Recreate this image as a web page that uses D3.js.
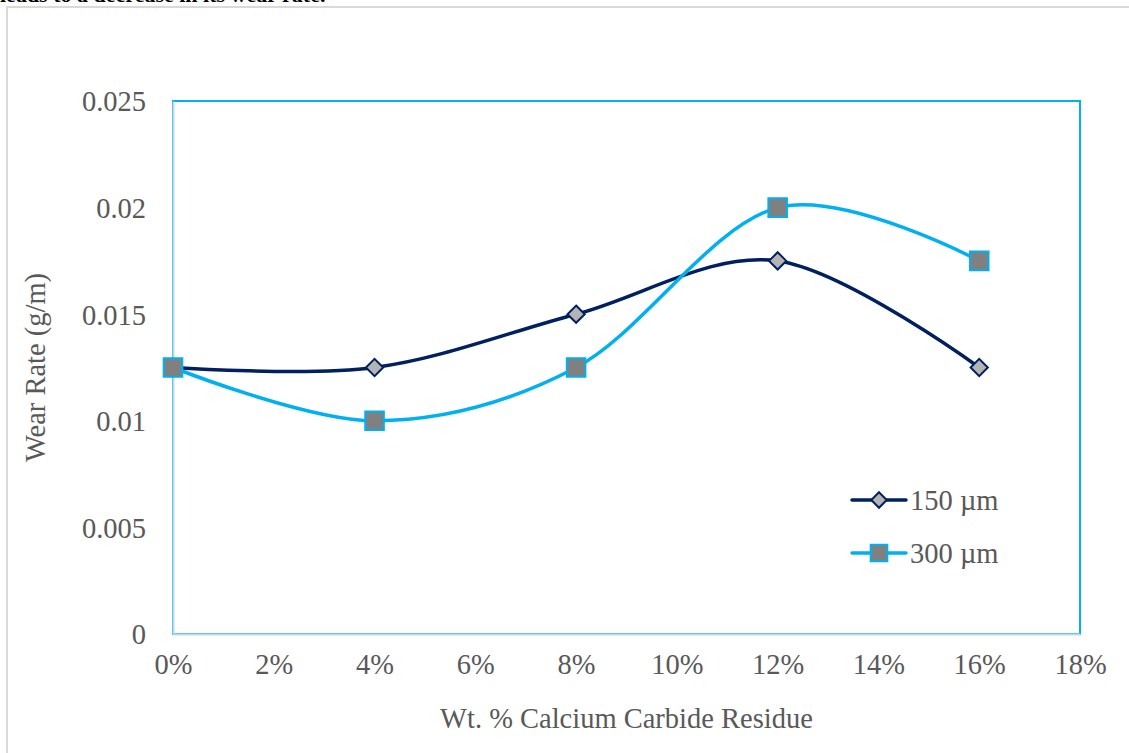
<!DOCTYPE html>
<html>
<head>
<meta charset="utf-8">
<script src="https://cdn.jsdelivr.net/npm/d3@7"></script>
<style>
  body { margin: 0; background: #fff; }
  svg { display: block; font-family: "Liberation Serif", "Times New Roman", serif; }
</style>
</head>
<body>
<div id="chart-area"></div>
<script>
// values
const wtPercent = [0, 4, 8, 12, 16];
const wear150 = [0.0125, 0.0125, 0.015, 0.0175, 0.0125];
const wear300 = [0.0125, 0.01, 0.0125, 0.02, 0.0175];
const xTicks = [0, 2, 4, 6, 8, 10, 12, 14, 16, 18];
const yTicks = [0, 0.005, 0.01, 0.015, 0.02, 0.025];
const seriesNames = ["150 \u00b5m", "300 \u00b5m"];

const width = 1129, height = 753;
const plot = { left: 173, right: 1080, top: 101, bottom: 634 };
const fontSize = 28.5;

const svg = d3.select("#chart-area")
    .append("svg")
    .attr("width", width)
    .attr("height", height);

// tail of the paragraph above, cut off by the crop
svg.append("text")
    .attr("x", 0)
    .attr("y", 2)
    .attr("font-size", 22)
    .attr("font-weight", "bold")
    .attr("fill", "#000")
    .text("leads to a decrease in its wear rate.");

// outer frame (only top and left show)
svg.append("path")
    .attr("d", `M7,${height} V7 H${width}`)
    .attr("fill", "none")
    .attr("stroke", "#d9d9d9")
    .attr("stroke-width", 2);

const x = d3.scaleLinear().domain([0, 18]).range([plot.left, plot.right]);
const y = d3.scaleLinear().domain([0, 0.025]).range([plot.bottom, plot.top]);

// plot area border
svg.append("rect")
    .attr("x", plot.left)
    .attr("y", plot.top)
    .attr("width", plot.right - plot.left)
    .attr("height", plot.bottom - plot.top)
    .attr("fill", "none")
    .attr("stroke", "#00b0f0")
    .attr("stroke-width", 2);

// axes
const xAxis = svg.append("g")
    .attr("transform", `translate(0,${plot.bottom})`)
    .call(d3.axisBottom(x).tickValues(xTicks).tickSize(0).tickPadding(20).tickFormat(d => d + "%"));
const yAxis = svg.append("g")
    .attr("transform", `translate(${plot.left},0)`)
    .call(d3.axisLeft(y).tickValues(yTicks).tickSize(0).tickPadding(27).tickFormat(d => String(+d.toFixed(3))));

[xAxis, yAxis].forEach(a => {
    a.select(".domain").attr("stroke", "#c3d9e6").attr("stroke-width", 2);
    a.selectAll("text")
        .attr("font-family", "Liberation Serif, Times New Roman, serif")
        .attr("font-size", fontSize)
        .attr("fill", "#595959");
});
yAxis.selectAll("text").attr("dy", "0.35em");

// axis titles
svg.append("text")
    .attr("x", (plot.left + plot.right) / 2)
    .attr("y", 728)
    .attr("text-anchor", "middle")
    .attr("font-size", fontSize)
    .attr("fill", "#595959")
    .text("Wt. % Calcium Carbide Residue");

svg.append("text")
    .attr("transform", `translate(45,${(plot.top + plot.bottom) / 2}) rotate(-90)`)
    .attr("text-anchor", "middle")
    .attr("font-size", fontSize)
    .attr("fill", "#595959")
    .text("Wear Rate (g/m)");

const line = d3.line()
    .x(d => x(d[0]))
    .y(d => y(d[1]))
    .curve(d3.curveCardinal.tension(0));

const series = [
    { name: seriesNames[0], values: wear150, color: "#002060", fill: "#b4b4b4", shape: d3.symbolDiamond2, size: 190 },
    { name: seriesNames[1], values: wear300, color: "#00b0f0", fill: "#808080", shape: d3.symbolSquare2, size: 440 }
];

series.forEach(s => {
    const pts = wtPercent.map((w, i) => [w, s.values[i]]);
    svg.append("path")
        .datum(pts)
        .attr("d", line)
        .attr("fill", "none")
        .attr("stroke", s.color)
        .attr("stroke-width", 3.5);
});

series.forEach(s => {
    const pts = wtPercent.map((w, i) => [w, s.values[i]]);
    svg.append("g")
        .selectAll("path")
        .data(pts)
        .join("path")
        .attr("transform", d => `translate(${x(d[0])},${y(d[1])})`)
        .attr("d", d3.symbol().type(s.shape).size(s.size))
        .attr("fill", s.fill)
        .attr("stroke", s.color)
        .attr("stroke-width", 2);
});

// legend
const legend = svg.append("g").attr("transform", "translate(852,500)");
series.forEach((s, i) => {
    const row = legend.append("g").attr("transform", `translate(0,${i * 53})`);
    row.append("line")
        .attr("x1", 0).attr("x2", 54)
        .attr("stroke", s.color)
        .attr("stroke-width", 3.5)
        .attr("stroke-linecap", "round");
    row.append("path")
        .attr("transform", "translate(27,0)")
        .attr("d", d3.symbol().type(s.shape).size(s.size * 0.8))
        .attr("fill", s.fill)
        .attr("stroke", s.color)
        .attr("stroke-width", 2);
    row.append("text")
        .attr("x", 58)
        .attr("dy", "0.35em")
        .attr("font-size", fontSize)
        .attr("fill", "#595959")
        .text(s.name);
});
</script>
</body>
</html>
